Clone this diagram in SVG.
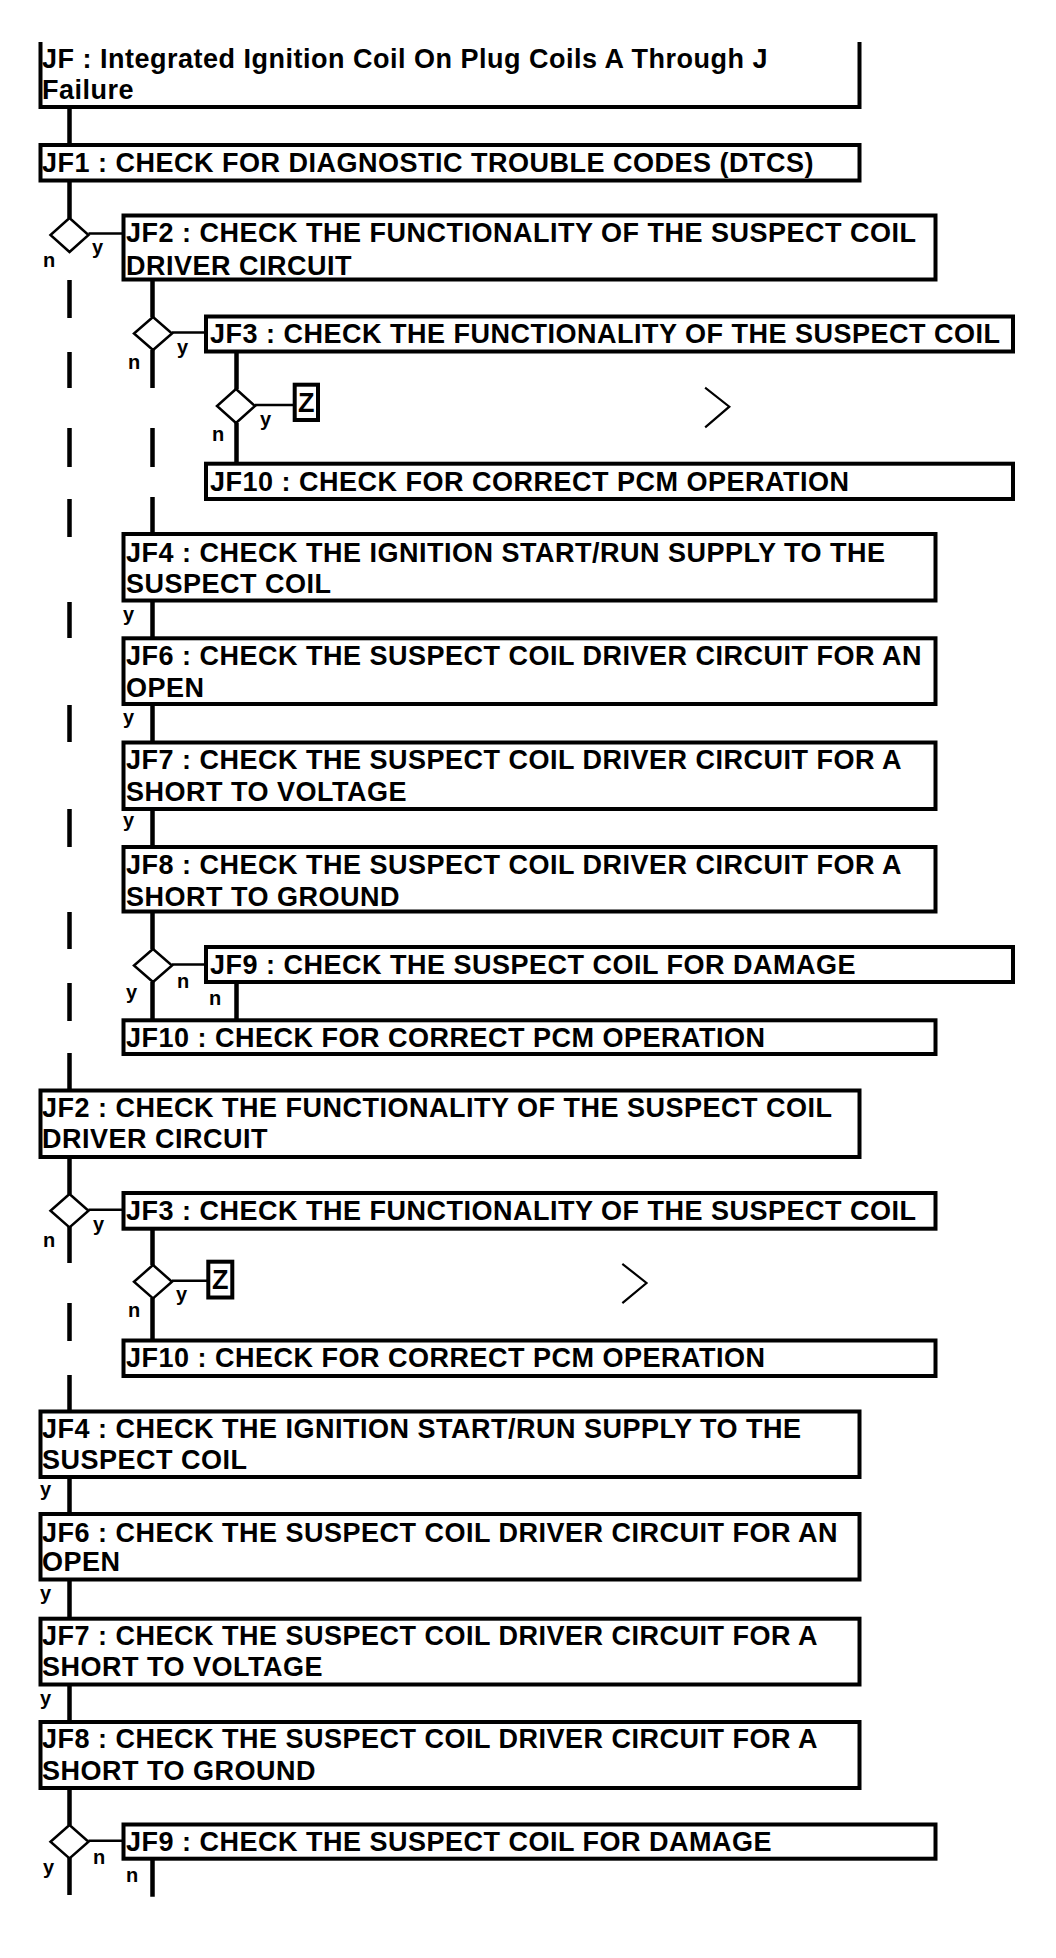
<svg xmlns="http://www.w3.org/2000/svg" width="1056" height="1958" viewBox="0 0 1056 1958">
<style>
.bx{fill:#fff;stroke:#000;stroke-width:4}
.t{font-family:"Liberation Sans",Arial,sans-serif;font-weight:bold;font-size:27px;letter-spacing:0.5px;fill:#000}
.l{font-family:"Liberation Sans",Arial,sans-serif;font-weight:bold;font-size:20px;fill:#000}
.c{stroke:#000;stroke-width:4.5;fill:none}
.h{stroke:#000;stroke-width:2.5;fill:none}
.d{fill:#fff;stroke:#000;stroke-width:2.5}
.ch{stroke:#000;stroke-width:2.2;fill:none;stroke-linecap:square}
</style>
<rect width="1056" height="1958" fill="#fff"/>
<g id="connectors">
<path class="c" d="M69.5 107V145M69.5 180.5V218M69.5 280V318M69.5 352V388M69.5 428V467M69.5 499V537M69.5 602V638M69.5 705V742M69.5 809V847M69.5 912V949M69.5 983V1021M69.5 1053V1090.5M69.5 1157V1194M69.5 1227V1263M69.5 1303V1341M69.5 1375V1411.5M69.5 1477V1514M69.5 1579.5V1618.7M69.5 1684.5V1722M69.5 1788V1825M69.5 1858V1895"/>
<path class="c" d="M152.5 279.5V317M152.5 350V388M152.5 428V467M152.5 497V534M152.5 600.5V638.3M152.5 704V742.5M152.5 809V847M152.5 911.5V949M152.5 982V1020.3M152.5 1228.7V1265M152.5 1298V1340.5M152.5 1858.7V1896.7"/>
<path class="c" d="M236.5 351.5V389M236.5 423V463.7M236.5 982V1020.3"/>
<path class="h" d="M88.5 233.5H123.5M172 332.5H206M255 405H294.7M172 964.5H206M88.5 1209.7H123.5M172 1280.7H208.3M88.5 1840.7H123.5"/>
<text class="l" x="92" y="254">y</text><text class="l" x="43" y="267">n</text>
<text class="l" x="177" y="354">y</text><text class="l" x="128" y="369">n</text>
<text class="l" x="260" y="426">y</text><text class="l" x="212" y="441">n</text>
<text class="l" x="123" y="621">y</text><text class="l" x="123" y="724">y</text><text class="l" x="123" y="827">y</text>
<text class="l" x="177" y="988">n</text><text class="l" x="126" y="999">y</text><text class="l" x="209" y="1005">n</text>
<text class="l" x="93" y="1231">y</text><text class="l" x="43" y="1247">n</text>
<text class="l" x="176" y="1301">y</text><text class="l" x="128" y="1317">n</text>
<text class="l" x="40" y="1496">y</text><text class="l" x="40" y="1600">y</text><text class="l" x="40" y="1705">y</text>
<text class="l" x="93" y="1864">n</text><text class="l" x="43" y="1874">y</text><text class="l" x="126" y="1882">n</text>
<polyline class="ch" points="706,388.3 729.3,406.7 706,426.7"/>
<polyline class="ch" points="623.2,1264.5 646.5,1283 623.2,1302.5"/>
</g>
<g id="JF">
<path class="bx" d="M40.5 42V107H859.5V42" fill="none"/>
<text class="t" x="42" y="67.5">JF : Integrated Ignition Coil On Plug Coils A Through J</text>
<text class="t" x="42" y="99">Failure</text>
</g>
<g id="JF1"><rect class="bx" x="40.5" y="145" width="819" height="35.5"/><text class="t" x="42" y="171.5">JF1 : CHECK FOR DIAGNOSTIC TROUBLE CODES (DTCS)</text></g>
<g id="D1"><polygon class="d" points="69.5,218 88.5,235 69.5,252 50.5,235"/></g>
<g id="JF2a"><rect class="bx" x="123.5" y="215.5" width="812" height="64"/><text class="t" x="126" y="241.5">JF2 : CHECK THE FUNCTIONALITY OF THE SUSPECT COIL</text><text class="t" x="126" y="274.5">DRIVER CIRCUIT</text></g>
<g id="D2"><polygon class="d" points="153,317 172,333.5 153,350 134,333.5"/></g>
<g id="JF3a"><rect class="bx" x="206" y="316.5" width="807" height="35"/><text class="t" x="210" y="343">JF3 : CHECK THE FUNCTIONALITY OF THE SUSPECT COIL</text></g>
<g id="D3"><polygon class="d" points="236,389 255,406 236,423 217,406"/></g>
<g id="Za"><rect class="bx" x="294.7" y="384.7" width="23.3" height="35.3"/><text class="t" x="306.3" y="411.7" text-anchor="middle" style="letter-spacing:0">Z</text></g>
<g id="JF10a"><rect class="bx" x="206" y="463.7" width="807" height="35.3"/><text class="t" x="210" y="490.5">JF10 : CHECK FOR CORRECT PCM OPERATION</text></g>
<g id="JF4a"><rect class="bx" x="123.5" y="534" width="812" height="66.5"/><text class="t" x="126" y="561.5">JF4 : CHECK THE IGNITION START/RUN SUPPLY TO THE</text><text class="t" x="126" y="593">SUSPECT COIL</text></g>
<g id="JF6a"><rect class="bx" x="123.5" y="638.3" width="812" height="65.7"/><text class="t" x="126" y="665">JF6 : CHECK THE SUSPECT COIL DRIVER CIRCUIT FOR AN</text><text class="t" x="126" y="696.7">OPEN</text></g>
<g id="JF7a"><rect class="bx" x="123.5" y="742.5" width="812" height="66.5"/><text class="t" x="126" y="769">JF7 : CHECK THE SUSPECT COIL DRIVER CIRCUIT FOR A</text><text class="t" x="126" y="800.5">SHORT TO VOLTAGE</text></g>
<g id="JF8a"><rect class="bx" x="123.5" y="847" width="812" height="64.5"/><text class="t" x="126" y="874">JF8 : CHECK THE SUSPECT COIL DRIVER CIRCUIT FOR A</text><text class="t" x="126" y="905.5">SHORT TO GROUND</text></g>
<g id="D4"><polygon class="d" points="153,949 172,965.5 153,982 134,965.5"/></g>
<g id="JF9a"><rect class="bx" x="206" y="947" width="807" height="35"/><text class="t" x="210" y="973.5">JF9 : CHECK THE SUSPECT COIL FOR DAMAGE</text></g>
<g id="JF10b"><rect class="bx" x="123.5" y="1020.3" width="812" height="33.7"/><text class="t" x="126" y="1046.5">JF10 : CHECK FOR CORRECT PCM OPERATION</text></g>
<g id="JF2b"><rect class="bx" x="40.5" y="1090.5" width="819" height="66.5"/><text class="t" x="42" y="1116.5">JF2 : CHECK THE FUNCTIONALITY OF THE SUSPECT COIL</text><text class="t" x="42" y="1148">DRIVER CIRCUIT</text></g>
<g id="D5"><polygon class="d" points="69.5,1194 88.5,1210.7 69.5,1227.4 50.5,1210.7"/></g>
<g id="JF3b"><rect class="bx" x="123.5" y="1193" width="812" height="35.7"/><text class="t" x="126" y="1219.5">JF3 : CHECK THE FUNCTIONALITY OF THE SUSPECT COIL</text></g>
<g id="D6"><polygon class="d" points="153,1265 172,1281.7 153,1298.4 134,1281.7"/></g>
<g id="Zb"><rect class="bx" x="208.3" y="1261.7" width="24" height="35.8"/><text class="t" x="220.3" y="1288.7" text-anchor="middle" style="letter-spacing:0">Z</text></g>
<g id="JF10c"><rect class="bx" x="123.5" y="1340.5" width="812" height="35.5"/><text class="t" x="126" y="1367">JF10 : CHECK FOR CORRECT PCM OPERATION</text></g>
<g id="JF4b"><rect class="bx" x="40.5" y="1411.5" width="819" height="65.5"/><text class="t" x="42" y="1438">JF4 : CHECK THE IGNITION START/RUN SUPPLY TO THE</text><text class="t" x="42" y="1468.5">SUSPECT COIL</text></g>
<g id="JF6b"><rect class="bx" x="40.5" y="1514" width="819" height="65.5"/><text class="t" x="42" y="1541.5">JF6 : CHECK THE SUSPECT COIL DRIVER CIRCUIT FOR AN</text><text class="t" x="42" y="1571">OPEN</text></g>
<g id="JF7b"><rect class="bx" x="40.5" y="1618.7" width="819" height="65.8"/><text class="t" x="42" y="1645">JF7 : CHECK THE SUSPECT COIL DRIVER CIRCUIT FOR A</text><text class="t" x="42" y="1676">SHORT TO VOLTAGE</text></g>
<g id="JF8b"><rect class="bx" x="40.5" y="1722" width="819" height="66"/><text class="t" x="42" y="1748.3">JF8 : CHECK THE SUSPECT COIL DRIVER CIRCUIT FOR A</text><text class="t" x="42" y="1780">SHORT TO GROUND</text></g>
<g id="D7"><polygon class="d" points="69.5,1825 88.5,1841.7 69.5,1858.4 50.5,1841.7"/></g>
<g id="JF9b"><rect class="bx" x="123.5" y="1824.5" width="812" height="34.2"/><text class="t" x="126" y="1850.5">JF9 : CHECK THE SUSPECT COIL FOR DAMAGE</text></g>
</svg>
